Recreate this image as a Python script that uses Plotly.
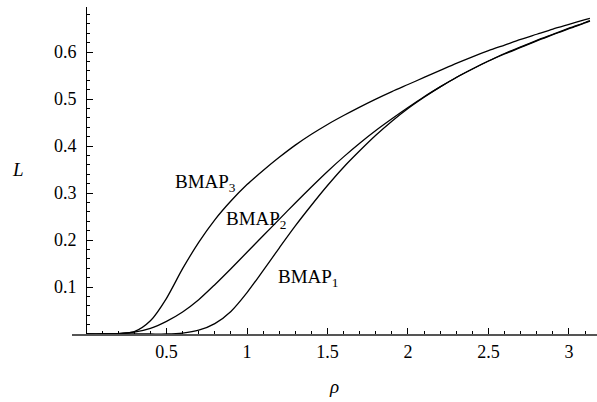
import plotly.graph_objects as go

rho = [0, 0.1, 0.2, 0.3, 0.4, 0.5, 0.6, 0.7, 0.8, 0.9, 1.0,
       1.1, 1.2, 1.3, 1.4, 1.5, 1.6, 1.7, 1.8, 1.9, 2.0,
       2.1, 2.2, 2.3, 2.4, 2.5, 2.6, 2.7, 2.8, 2.9, 3.0, 3.1, 3.13]

bmap3 = [0, 0, 0.001, 0.005, 0.028, 0.076, 0.139, 0.195, 0.243, 0.283, 0.318,
         0.348, 0.376, 0.402, 0.425, 0.446, 0.465, 0.483, 0.500, 0.516, 0.531,
         0.546, 0.561, 0.576, 0.590, 0.603, 0.615, 0.627, 0.638, 0.649, 0.659, 0.669, 0.672]
bmap2 = [0, 0, 0.001, 0.004, 0.012, 0.027, 0.047, 0.073, 0.105, 0.139, 0.174,
         0.209, 0.244, 0.279, 0.313, 0.346, 0.377, 0.406, 0.433, 0.458, 0.482,
         0.505, 0.526, 0.546, 0.564, 0.581, 0.597, 0.611, 0.625, 0.638, 0.651, 0.663, 0.667]
bmap1 = [0, 0, 0, 0, 0, 0, 0.002, 0.008, 0.022, 0.048, 0.088,
         0.135, 0.183, 0.230, 0.274, 0.316, 0.355, 0.390, 0.423, 0.453, 0.480,
         0.504, 0.526, 0.546, 0.564, 0.581, 0.596, 0.610, 0.624, 0.637, 0.650, 0.662, 0.666]

labels = ["BMAP<sub>1</sub>", "BMAP<sub>2</sub>", "BMAP<sub>3</sub>"]
label_x = [1.38, 1.056, 0.74]
label_y = [0.119, 0.243, 0.321]

x_ticks = [0.5, 1, 1.5, 2, 2.5, 3]
x_ticktext = ["0.5", "1", "1.5", "2", "2.5", "3"]
y_ticks = [0.1, 0.2, 0.3, 0.4, 0.5, 0.6]
y_ticktext = ["0.1", "0.2", "0.3", "0.4", "0.5", "0.6"]

FONT = "Liberation Serif, Times New Roman, serif"
x_range = [-0.087, 3.174]

fig = go.Figure()
for ys in (bmap1, bmap2, bmap3):
    fig.add_trace(go.Scatter(x=rho, y=ys, mode="lines",
                             line=dict(color="black", width=1.3, shape="spline", smoothing=0.8),
                             showlegend=False, hoverinfo="skip"))

for t, lx, ly in zip(labels, label_x, label_y):
    fig.add_annotation(x=lx, y=ly, text=t, showarrow=False,
                       font=dict(family=FONT, size=19, color="black"))

ypos = (0 - x_range[0]) / (x_range[1] - x_range[0])
tickfont = dict(family=FONT, size=18, color="black")

fig.update_layout(
    width=597, height=402,
    margin=dict(l=72, r=0, t=7, b=68),
    paper_bgcolor="white", plot_bgcolor="white",
    font=dict(family=FONT, size=18, color="black"),
    xaxis=dict(range=x_range, showgrid=False, zeroline=False,
               showline=True, linecolor="#555555", linewidth=1.5,
               tickmode="array", tickvals=x_ticks, ticktext=x_ticktext,
               tickfont=tickfont,
               ticks="inside", ticklen=6, tickcolor="black", tickwidth=1,
               ticklabelstandoff=1,
               minor=dict(dtick=0.1, tick0=0, ticks="inside", ticklen=3,
                          tickcolor="black", showgrid=False),
               title=dict(text="<i>ρ</i>", font=dict(family=FONT, size=19), standoff=18)),
    yaxis=dict(range=[0, 0.696], showgrid=False, zeroline=False,
               anchor="free", position=ypos,
               showline=True, linecolor="black", linewidth=1,
               tickmode="array", tickvals=y_ticks, ticktext=y_ticktext,
               tickfont=tickfont,
               ticks="inside", ticklen=6, tickcolor="black", tickwidth=1,
               ticklabelstandoff=6,
               minor=dict(dtick=0.02, tick0=0, ticks="inside", ticklen=3,
                          tickcolor="black", showgrid=False),
               title=dict(text="")),
)
fig.add_annotation(x=(18 - 72) / 525, y=(402 - 68 - 169) / 327, xref="paper", yref="paper",
                   text="<i>L</i>", showarrow=False, xanchor="center", yanchor="middle",
                   font=dict(family=FONT, size=19))

fig.write_html("out.html")
